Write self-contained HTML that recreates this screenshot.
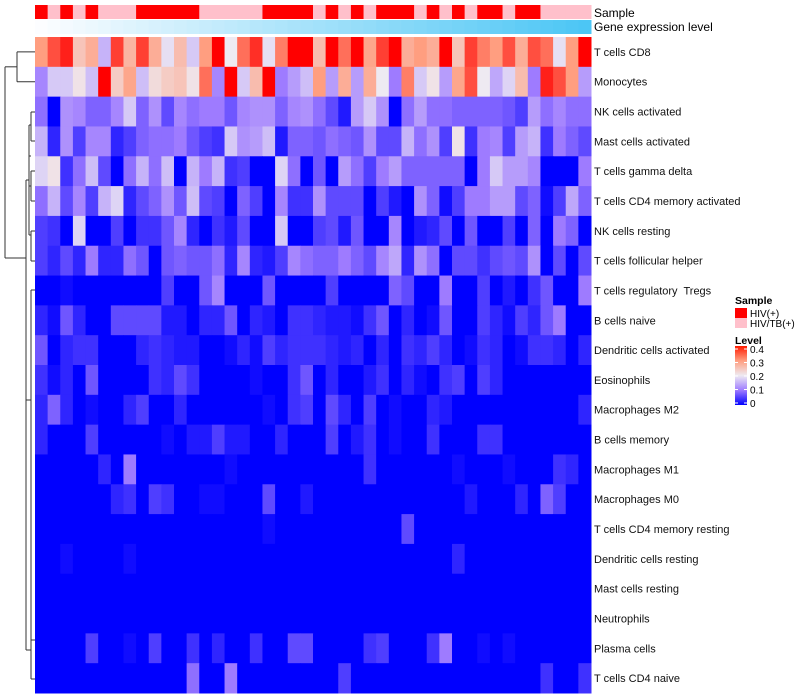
<!DOCTYPE html>
<html><head><meta charset="utf-8"><style>
body{margin:0;background:#fff;}
svg{display:block;font-family:"Liberation Sans",sans-serif;}
#labels text{white-space:pre;}
</style></head><body>
<svg id="chart" width="800" height="700" viewBox="0 0 800 700">
<g id="dendro" stroke="#333" stroke-width="1" fill="none"></g>
<g id="annot"></g>
<g id="cells"></g>
<g id="labels" font-size="11" fill="#111"></g>
<text x="594" y="17" font-size="12">Sample</text>
<text x="594" y="31" font-size="12">Gene expression level</text>
<g font-size="10">
<text x="735" y="304" font-weight="bold" font-size="10.5">Sample</text>
<rect x="735" y="308" width="12" height="10" fill="#ff0000"/>
<text x="750" y="317">HIV(+)</text>
<rect x="735" y="318" width="12" height="10" fill="#ffc0cb"/>
<text x="750" y="327">HIV/TB(+)</text>
<text x="735" y="344" font-weight="bold" font-size="10.5">Level</text>
<defs><linearGradient id="lg" x1="0" y1="1" x2="0" y2="0">
<stop offset="0" stop-color="#0000ff"/><stop offset="0.25" stop-color="#9e7bff"/><stop offset="0.5" stop-color="#eeeaf2"/><stop offset="0.75" stop-color="#ff9e80"/><stop offset="1" stop-color="#ff1a00"/></linearGradient></defs>
<rect x="735" y="346" width="12" height="59" fill="url(#lg)"/>
<g id="legticks"></g>
</g>
</svg>
<script>
const rowNames=["T cells CD8","Monocytes","NK cells activated","Mast cells activated","T cells gamma delta","T cells CD4 memory activated","NK cells resting","T cells follicular helper","T cells regulatory  Tregs","B cells naive","Dendritic cells activated","Eosinophils","Macrophages M2","B cells memory","Macrophages M1","Macrophages M0","T cells CD4 memory resting","Dendritic cells resting","Mast cells resting","Neutrophils","Plasma cells","T cells CD4 naive"];
const sampleGroups=[1,0,1,0,1,0,0,0,1,1,1,1,1,0,0,0,0,0,1,1,1,1,0,1,0,1,0,1,1,1,0,1,0,1,0,1,1,0,1,1,0,0,0,0];
const legendTicks=[0,0.1,0.2,0.3,0.4];
const r1=[0.3,0.35,0.38,0.25,0.28,0.15,0.36,0.27,0.36,0.28,0.19,0.26,0.17,0.3,0.4,0.2,0.33,0.37,0.19,0.32,0.4,0.4,0.26,0.4,0.33,0.4,0.29,0.36,0.4,0.28,0.3,0.28,0.4,0.25,0.36,0.32,0.3,0.35,0.28,0.35,0.33,0.19,0.3,0.4];
const r2=[0.11,0.17,0.17,0.21,0.16,0.4,0.24,0.29,0.16,0.22,0.24,0.25,0.21,0.33,0.11,0.4,0.17,0.26,0.4,0.1,0.13,0.16,0.3,0.13,0.28,0.13,0.28,0.2,0.1,0.32,0.17,0.21,0.13,0.29,0.35,0.2,0.14,0.18,0.26,0.1,0.38,0.35,0.3,0.13];
const r3=[0.09,0,0.12,0.11,0.08,0.08,0.11,0.17,0.08,0.12,0.06,0.11,0.09,0.1,0.1,0.07,0.11,0.12,0.12,0.08,0.11,0.12,0.09,0.06,0.02,0.13,0.17,0.12,0,0.09,0.13,0.09,0.09,0.08,0.08,0.08,0.08,0.07,0.05,0.13,0.09,0.11,0.09,0.09];
const r4=[0.15,0.03,0.12,0.05,0.11,0.11,0.03,0.05,0.08,0.09,0.09,0.1,0.07,0.05,0.04,0.17,0.12,0.13,0.16,0.02,0.08,0.08,0.07,0.09,0.08,0.07,0.12,0.06,0.06,0.15,0.09,0.12,0.05,0.21,0.04,0.1,0.11,0.05,0.13,0.15,0.04,0.1,0.08,0.06];
const r5=[0.18,0.21,0.04,0.09,0.16,0.06,0,0.09,0.15,0.09,0.16,0,0.15,0.1,0.15,0.04,0.05,0,0,0.18,0.09,0,0.07,0,0.13,0.09,0.05,0.1,0.13,0.08,0.08,0.08,0.08,0.08,0,0.1,0.17,0.13,0.13,0.11,0,0,0,0.1];
const r6=[0.09,0.15,0.06,0.11,0.05,0.15,0.18,0.03,0.06,0.08,0.12,0.07,0.16,0.06,0.05,0,0.08,0.05,0,0.11,0.04,0.04,0.12,0.06,0.06,0.06,0,0.05,0.02,0,0.12,0.08,0.01,0.05,0.1,0.1,0.13,0.13,0.06,0.08,0.01,0.05,0.14,0.08];
const r7=[0.05,0.04,0,0.18,0,0,0.05,0,0.04,0.04,0.07,0.11,0.03,0,0.04,0.02,0.06,0,0,0.17,0,0,0.05,0.06,0.02,0.07,0,0,0.11,0,0.02,0.03,0.06,0,0.07,0,0,0.05,0,0.08,0,0.1,0.08,0];
const r8=[0.05,0.03,0.06,0.03,0.1,0.03,0.03,0.09,0.07,0,0.07,0.08,0.07,0.07,0.09,0.03,0.11,0.03,0.02,0.05,0.11,0.09,0.08,0.08,0.1,0.08,0.06,0.11,0.14,0.03,0.12,0.09,0,0.06,0.06,0.04,0.06,0.07,0.06,0.12,0,0.06,0,0.06];
const r9=[0,0,0.01,0,0,0,0,0,0,0,0.05,0,0,0.07,0.11,0,0,0,0.07,0,0,0,0,0.05,0,0,0,0,0.08,0.06,0,0,0.1,0,0,0.05,0,0.02,0,0.04,0.07,0,0,0.1];
const r10=[0.03,0.01,0.07,0.03,0,0,0.06,0.06,0.06,0.06,0.02,0.02,0,0.03,0.03,0.07,0,0.03,0.02,0,0.04,0.04,0.03,0.02,0.02,0.01,0.04,0.07,0,0.03,0,0.01,0.07,0,0,0.05,0.03,0.01,0.05,0.03,0.07,0.1,0,0];
const r11=[0.07,0,0.03,0.04,0.04,0,0,0,0.03,0.04,0.03,0.02,0.02,0,0,0.01,0.03,0.01,0.05,0.03,0.04,0.04,0.04,0.03,0.02,0.03,0,0.03,0,0.04,0.03,0.05,0.03,0,0.01,0.04,0.03,0,0.01,0.04,0.04,0.03,0,0.03];
const r12=[0.04,0.01,0.03,0,0.07,0,0,0,0,0.04,0.03,0.06,0.04,0,0,0,0,0.01,0,0,0.04,0.07,0,0.03,0,0,0.02,0.04,0,0.03,0.01,0,0.04,0.05,0,0.05,0.03,0,0,0,0,0,0,0];
const r13=[0.03,0.08,0.03,0,0.01,0,0,0.03,0.05,0,0,0.03,0,0,0,0,0,0,0.01,0,0.04,0.05,0,0.06,0.03,0,0.05,0,0.01,0,0,0.03,0.02,0,0,0,0,0,0,0,0,0,0,0.03];
const r14=[0.03,0,0,0,0.05,0,0,0,0,0,0.01,0,0.02,0.02,0.05,0.02,0.02,0,0,0.03,0,0,0,0.05,0,0.02,0.04,0,0.01,0,0,0.04,0,0,0,0.04,0.04,0,0,0,0,0,0,0];
const r15=[0,0,0,0,0,0.03,0,0.1,0,0,0,0,0,0,0,0.01,0,0,0,0,0,0,0,0,0,0,0.04,0,0,0,0,0,0,0.01,0,0,0,0.01,0,0,0,0.04,0.03,0];
const r16=[0,0,0,0,0,0,0.03,0.04,0,0.05,0.04,0,0,0.01,0.01,0,0,0,0.06,0,0,0.02,0,0,0,0,0,0,0,0,0,0,0,0,0.02,0,0,0,0.03,0,0.08,0.05,0,0];
const r17=[0,0,0,0,0,0,0,0,0,0,0,0,0,0,0,0,0,0,0.01,0,0,0,0,0,0,0,0,0,0,0.06,0,0,0,0,0,0,0,0,0,0,0,0,0,0];
const r18=[0,0,0.01,0,0,0,0,0.01,0,0,0,0,0,0,0,0,0,0,0,0,0,0,0,0,0,0,0,0,0,0,0,0,0,0.03,0,0,0,0,0,0,0,0,0,0];
const r19=[0,0,0,0,0,0,0,0,0,0,0,0,0,0,0,0,0,0,0,0,0,0,0,0,0,0,0,0,0,0,0,0,0,0,0,0,0,0,0,0,0,0,0,0];
const r20=[0,0,0,0,0,0,0,0,0,0,0,0,0,0,0,0,0,0,0,0,0,0,0,0,0,0,0,0,0,0,0,0,0,0,0,0,0,0,0,0,0,0,0,0];
const r21=[0,0,0,0,0.05,0,0,0.01,0,0.05,0,0,0.04,0,0.03,0,0,0.04,0,0,0.06,0.06,0,0,0,0,0.04,0.05,0,0,0,0.04,0.1,0,0,0.01,0,0.01,0,0,0,0,0,0];
const r22=[0,0,0,0,0,0,0,0,0,0,0,0,0.09,0,0,0.1,0,0,0,0,0,0,0,0,0.05,0,0,0,0,0,0,0,0,0,0,0,0,0,0,0,0.04,0,0,0.04];
const matrix=[r1,r2,r3,r4,r5,r6,r7,r8,r9,r10,r11,r12,r13,r14,r15,r16,r17,r18,r19,r20,r21,r22];

const NS="http://www.w3.org/2000/svg";
const X0=35,X1=591,Y0=37,Y1=693;
const nCol=sampleGroups.length,nRow=rowNames.length;
const cw=(X1-X0)/nCol,rh=(Y1-Y0)/nRow;
function xPos(i){return X0+i*cw;}
function yPos(j){return Y0+j*rh;}
const stops=[[0,[0,0,255]],[0.1,[158,123,255]],[0.2,[238,234,242]],[0.3,[255,158,128]],[0.4,[255,0,0]]];
function color(v){
  v=Math.max(0,Math.min(0.4,v));
  for(let k=0;k<stops.length-1;k++){
    const a=stops[k],b=stops[k+1];
    if(v<=b[0]){const t=(v-a[0])/(b[0]-a[0]);
      const c=a[1].map((x,i)=>Math.round(x+(b[1][i]-x)*t));
      return "rgb("+c.join(",")+")";}
  }
  return "rgb(255,0,0)";
}
function mk(tag,attrs,parent){const e=document.createElementNS(NS,tag);for(const k in attrs)e.setAttribute(k,attrs[k]);parent.appendChild(e);return e;}

const cells=document.getElementById('cells');
matrix.forEach((row,j)=>{row.forEach((v,i)=>{
  const r=mk('rect',{x:xPos(i),y:yPos(j),width:cw+0.5,height:rh+0.5,fill:color(v)},cells);
  
  
});});

const annot=document.getElementById('annot');
sampleGroups.forEach((g,i)=>{
  const r=mk('rect',{x:xPos(i),y:5,width:cw+0.5,height:14,fill:g?"#ff0000":"#ffc0cb"},annot);
  
  
  const t=i/(nCol-1);
  const c=[Math.round(252-(252-76)*t),Math.round(253-(253-198)*t),Math.round(255-(255-245)*t)];
  const r2e=mk('rect',{x:xPos(i),y:20,width:cw+0.5,height:14,fill:"rgb("+c.join(",")+")"},annot);
  
  
});

const labels=document.getElementById('labels');
rowNames.forEach((n,j)=>{
  const t=mk('text',{x:594,y:yPos(j)+rh/2+4},labels);
  t.setAttribute('xml:space','preserve');
  t.textContent=n;
  
  
});

const lt=document.getElementById('legticks');
legendTicks.forEach(v=>{
  const y=403-(v/0.4)*54;
  mk('line',{x1:735,x2:738,y1:y,y2:y,stroke:"#fff"},lt);
  mk('line',{x1:744,x2:747,y1:y,y2:y,stroke:"#fff"},lt);
  const t=mk('text',{x:750,y:y+4},lt);
  t.textContent=String(v);
  
  
});

const d=document.getElementById('dendro');
function cy(j){return yPos(j)+rh/2;}
const segs=[
 [17,cy(0),35,cy(0)],[17,cy(1),35,cy(1)],[17,cy(0),17,cy(1)],
 [5,(cy(0)+cy(1))/2,17,(cy(0)+cy(1))/2],[5,(cy(0)+cy(1))/2,5,258],[5,258,26,258],
 [26,180,26,650],[26,180,29,180],[26,650,31,650],
 [29,125,29,235],[29,125,31,125],[29,235,31,235],
 [31,112,35,112],[31,141,35,141],[31,112,31,141],
 [31,171,35,171],[31,201,35,201],[31,171,31,201],[29,156,31,156],[29,186,31,186],
 [31,231,35,231],[31,261,35,261],[31,231,31,261],
 [31,290,31,640],[31,290,35,290],[31,640,35,640],[26,400,31,400],
 [31,620,31,679],[31,679,35,679]
];
segs.forEach(s=>{mk('line',{x1:s[0],y1:s[1],x2:s[2],y2:s[3]},d);});
</script>
</body></html>
